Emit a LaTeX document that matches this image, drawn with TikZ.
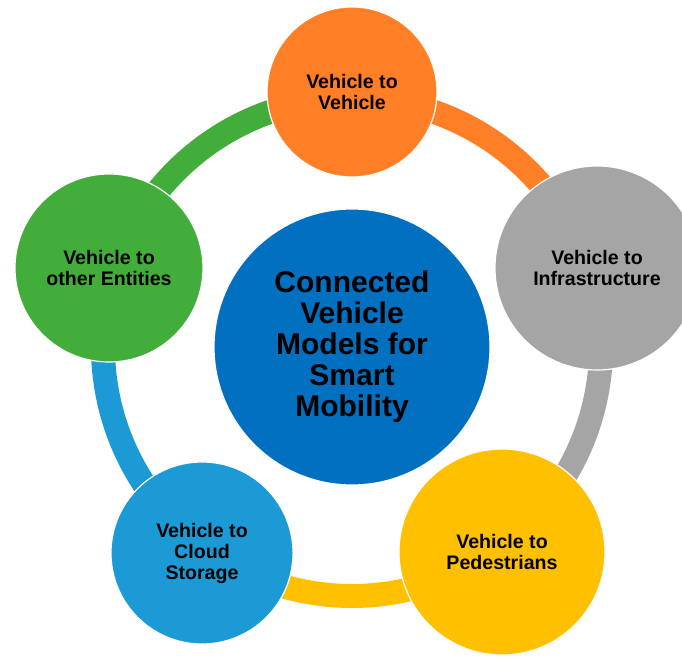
\documentclass[tikz,border=0pt]{standalone}
\usepackage{fontspec}
\setmainfont{Liberation Sans}
\definecolor{cOrange}{RGB}{255,127,39}
\definecolor{cGray}{RGB}{165,165,165}
\definecolor{cYellow}{RGB}{255,192,0}
\definecolor{cBlue}{RGB}{27,154,214}
\definecolor{cGreen}{RGB}{67,173,59}
\definecolor{cCenter}{RGB}{2,112,192}
\begin{document}
\begin{tikzpicture}[x=1pt,y=1pt,
  bubble/.style={circle, draw=white, line width=1.2pt, inner sep=0pt, align=center,
    font=\fontsize{19.6}{21}\selectfont\bfseries, text=black},
  hub/.style={bubble, font=\fontsize{30}{31}\selectfont\bfseries},
  ringseg/.style={line width=24pt}]
\useasboundingbox (0,0) rectangle (682,656);
\clip (0,0) rectangle (682,656);
\coordinate (ctr) at (352,309);
% ring segments
\draw[ringseg, cOrange] ([shift={(90:249)}]ctr) arc[start angle=90, end angle=18, radius=249];
\draw[ringseg, cGray] ([shift={(18:249)}]ctr) arc[start angle=18, end angle=-54, radius=249];
\draw[ringseg, cYellow] ([shift={(-54:249)}]ctr) arc[start angle=-54, end angle=-126, radius=249];
\draw[ringseg, cBlue] ([shift={(-126:249)}]ctr) arc[start angle=-126, end angle=-198, radius=249];
\draw[ringseg, cGreen] ([shift={(162:249)}]ctr) arc[start angle=162, end angle=90, radius=249];
% hub
\node[hub, fill=cCenter, minimum size=276pt] (hub) at (ctr) {Connected\\Vehicle\\Models for\\Smart\\Mobility};
% outer bubbles
\node[bubble, fill=cOrange, minimum size=170pt] (v2v) at (352,564) {Vehicle to\\Vehicle};
\node[bubble, fill=cGray, minimum size=204pt] (v2i) at (597,388) {Vehicle to\\Infrastructure};
\node[bubble, fill=cYellow, minimum size=206pt] (v2p) at (502,104) {Vehicle to\\Pedestrians};
\node[bubble, fill=cBlue, minimum size=182pt] (v2c) at (202,103) {Vehicle to\\Cloud\\Storage};
\node[bubble, fill=cGreen, minimum size=188pt] (v2e) at (109,388) {Vehicle to\\other Entities};
\end{tikzpicture}
\end{document}
